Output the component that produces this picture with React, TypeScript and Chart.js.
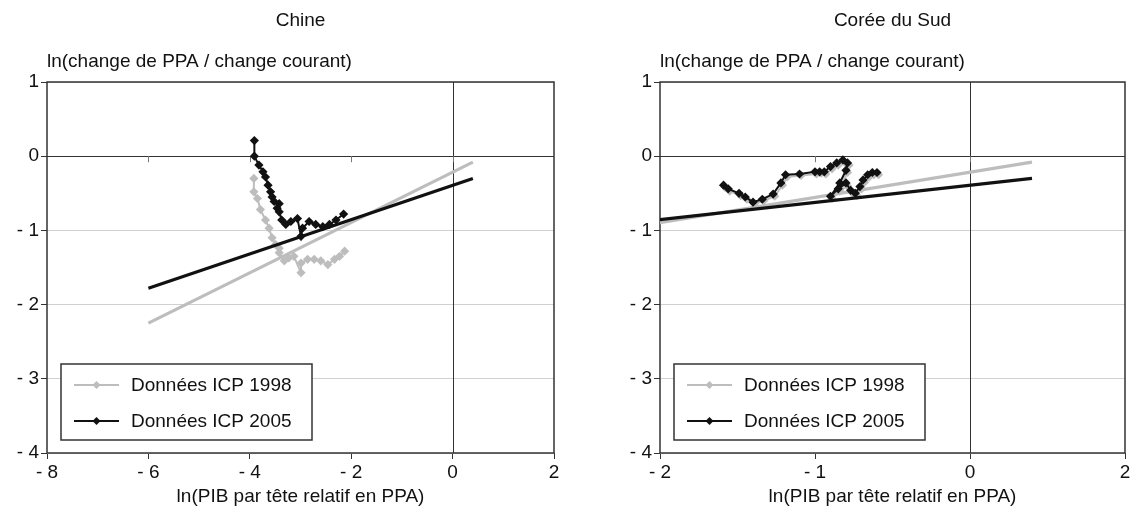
import React, { useEffect, useRef } from 'react';
import { Chart, registerables } from 'chart.js';
Chart.register(...registerables);

const FONT = "'Liberation Sans', Arial, Helvetica, sans-serif";

const chinaTitle = 'Chine';
const koreaTitle = 'Corée du Sud';
const yAxisTitle = 'ln(change de PPA / change courant)';
const xAxisTitle = 'ln(PIB par tête relatif en PPA)';
const legendLabels = ['Données ICP 1998', 'Données ICP 2005'];

const yTickValues = [1, 0, -1, -2, -3, -4];
const yTickLabels = ['1', '0', '- 1', '- 2', '- 3', '- 4'];
const chinaXTickValues = [-8, -6, -4, -2, 0, 2];
const chinaXTickLabels = ['- 8', '- 6', '- 4', '- 2', '0', '2'];
const koreaXTickValues = [-2, -1, 0, 1];
const koreaXTickLabels = ['- 2', '- 1', '0', '2'];

// cross-country regression lines
const fit1998X = [-6, 0.4];
const fit1998Y = [-2.25, -0.08];
const fit2005X = [-6, 0.4];
const fit2005Y = [-1.78, -0.3];

// China
const china2005X = [-3.91, -3.91, -3.82, -3.74, -3.69, -3.64, -3.59, -3.56, -3.52, -3.42, -3.46, -3.42, -3.37, -3.29, -3.19, -3.06, -2.99, -2.96, -2.83, -2.7, -2.56, -2.43, -2.3, -2.15];
const china2005Y = [0.21, 0.0, -0.12, -0.21, -0.28, -0.39, -0.48, -0.55, -0.61, -0.64, -0.7, -0.75, -0.86, -0.92, -0.88, -0.84, -1.08, -0.97, -0.88, -0.92, -0.95, -0.92, -0.86, -0.78];
const china1998X = [-3.92, -3.92, -3.85, -3.79, -3.69, -3.62, -3.56, -3.49, -3.42, -3.42, -3.32, -3.23, -3.13, -2.99, -2.99, -2.86, -2.73, -2.6, -2.46, -2.33, -2.23, -2.13];
const china1998Y = [-0.3, -0.48, -0.57, -0.72, -0.86, -0.97, -1.1, -1.19, -1.24, -1.3, -1.41, -1.37, -1.35, -1.57, -1.44, -1.39, -1.39, -1.41, -1.46, -1.39, -1.35, -1.28];

// Korea
const korea2005X = [-1.59, -1.56, -1.49, -1.45, -1.4, -1.34, -1.27, -1.22, -1.19, -1.1, -1.0, -0.97, -0.94, -0.9, -0.86, -0.82, -0.79, -0.8, -0.84, -0.9, -0.85, -0.8, -0.77, -0.74, -0.71, -0.69, -0.66, -0.63, -0.6];
const korea2005Y = [-0.39, -0.44, -0.5, -0.55, -0.62, -0.58, -0.51, -0.36, -0.25, -0.24, -0.21, -0.21, -0.21, -0.14, -0.09, -0.05, -0.09, -0.19, -0.36, -0.54, -0.44, -0.36, -0.46, -0.5, -0.41, -0.32, -0.25, -0.22, -0.22];
const korea1998X = [-1.58, -1.55, -1.48, -1.44, -1.39, -1.33, -1.26, -1.21, -1.18, -1.09, -0.99, -0.96, -0.93, -0.89, -0.85, -0.81, -0.78, -0.79, -0.83, -0.89, -0.84, -0.79, -0.76, -0.73, -0.7, -0.68, -0.65, -0.62, -0.59];
const korea1998Y = [-0.42, -0.47, -0.53, -0.58, -0.64, -0.6, -0.54, -0.39, -0.28, -0.26, -0.24, -0.23, -0.24, -0.17, -0.12, -0.08, -0.12, -0.22, -0.39, -0.57, -0.47, -0.4, -0.49, -0.53, -0.44, -0.35, -0.28, -0.25, -0.25];

const GRAY = '#bdbdbd';
const BLACK = '#111111';

const zip = (xs: number[], ys: number[]) => xs.map((x, i) => ({ x, y: ys[i] }));

function lookup(values: number[], labels: string[], v: number) {
  const i = values.findIndex((t) => Math.abs(t - v) < 1e-9);
  return i >= 0 ? labels[i] : '';
}

function diamond(ctx: CanvasRenderingContext2D, x: number, y: number, r: number) {
  ctx.beginPath();
  ctx.moveTo(x, y - r);
  ctx.lineTo(x + r, y);
  ctx.lineTo(x, y + r);
  ctx.lineTo(x - r, y);
  ctx.closePath();
  ctx.fill();
}

function makeDecor(title: string, xTicks: number[]) {
  return {
    id: 'decor',
    beforeDatasetsDraw(chart: any) {
      const { ctx, chartArea: a, scales } = chart;
      const x = scales.x;
      const y = scales.y;
      ctx.save();
      const x0 = Math.round(x.getPixelForValue(0)) + 0.5;
      ctx.strokeStyle = '#333';
      ctx.lineWidth = 1;
      ctx.beginPath();
      ctx.moveTo(x0, a.top);
      ctx.lineTo(x0, a.bottom);
      ctx.stroke();
      const y0 = y.getPixelForValue(0);
      ctx.strokeStyle = '#777';
      ctx.beginPath();
      for (let i = 1; i < xTicks.length - 1; i++) {
        const px = Math.round(x.getPixelForValue(xTicks[i])) + 0.5;
        ctx.moveTo(px, y0);
        ctx.lineTo(px, y0 + 6);
      }
      ctx.stroke();
      ctx.strokeStyle = '#333';
      ctx.lineWidth = 1.5;
      ctx.strokeRect(a.left, a.top, a.right - a.left, a.bottom - a.top);
      ctx.restore();
    },
    afterDatasetsDraw(chart: any) {
      const { ctx, chartArea: a } = chart;
      ctx.save();
      const bx = a.left + 14;
      const bw = 251;
      const bh = 76;
      const by = a.bottom - 13 - bh;
      ctx.fillStyle = '#fff';
      ctx.fillRect(bx, by, bw, bh);
      ctx.strokeStyle = '#333';
      ctx.lineWidth = 1.5;
      ctx.strokeRect(bx, by, bw, bh);
      const rows = [
        { c: GRAY, y: by + 21, t: legendLabels[0] },
        { c: BLACK, y: by + 57, t: legendLabels[1] },
      ];
      ctx.font = `19px ${FONT}`;
      ctx.textBaseline = 'middle';
      ctx.textAlign = 'left';
      for (const r of rows) {
        ctx.strokeStyle = r.c;
        ctx.fillStyle = r.c;
        ctx.lineWidth = 2;
        ctx.beginPath();
        ctx.moveTo(bx + 13, r.y);
        ctx.lineTo(bx + 58, r.y);
        ctx.stroke();
        diamond(ctx, bx + 35.5, r.y, 4);
        ctx.fillStyle = '#111';
        ctx.fillText(r.t, bx + 70, r.y + 1);
      }
      ctx.restore();
    },
    afterDraw(chart: any) {
      const { ctx, chartArea: a } = chart;
      ctx.save();
      ctx.fillStyle = '#111';
      ctx.font = `19px ${FONT}`;
      ctx.textBaseline = 'middle';
      ctx.textAlign = 'center';
      const cx = (a.left + a.right) / 2;
      ctx.fillText(title, cx, 21);
      ctx.fillText(xAxisTitle, cx, 497);
      ctx.textAlign = 'left';
      ctx.fillText(yAxisTitle, a.left, 62);
      ctx.restore();
    },
  };
}

interface Cfg {
  title: string;
  xMin: number;
  xMax: number;
  xTicks: number[];
  xLabels: string[];
  yWidth: number;
  padRight: number;
  s2005: { x: number; y: number }[];
  s1998: { x: number; y: number }[];
}

function buildConfig(c: Cfg): any {
  const tickFont = { family: FONT, size: 19 };
  return {
    type: 'scatter',
    data: {
      datasets: [
        {
          data: c.s2005,
          showLine: true,
          borderColor: BLACK,
          backgroundColor: BLACK,
          borderWidth: 2,
          pointStyle: 'rectRot',
          pointRadius: 4.6,
          pointBorderWidth: 0,
        },
        {
          data: zip(fit2005X, fit2005Y),
          showLine: true,
          borderColor: BLACK,
          borderWidth: 3.2,
          pointRadius: 0,
        },
        {
          data: zip(fit1998X, fit1998Y),
          showLine: true,
          borderColor: GRAY,
          borderWidth: 3.2,
          pointRadius: 0,
        },
        {
          data: c.s1998,
          showLine: true,
          borderColor: GRAY,
          backgroundColor: GRAY,
          borderWidth: 2,
          pointStyle: 'rectRot',
          pointRadius: 4.6,
          pointBorderWidth: 0,
        },
      ],
    },
    options: {
      responsive: false,
      animation: false,
      devicePixelRatio: 1,
      layout: { padding: { left: 0, right: c.padRight, top: 82, bottom: 0 } },
      plugins: { legend: { display: false }, tooltip: { enabled: false }, title: { display: false } },
      scales: {
        x: {
          type: 'linear',
          min: c.xMin,
          max: c.xMax,
          afterBuildTicks: (s: any) => {
            s.ticks = c.xTicks.map((v) => ({ value: v }));
          },
          afterFit: (s: any) => {
            s.height = 71;
          },
          ticks: {
            autoSkip: false,
            maxRotation: 0,
            padding: 2,
            color: '#111',
            font: tickFont,
            callback: (v: number) => lookup(c.xTicks, c.xLabels, v),
          },
          grid: { drawOnChartArea: false, tickLength: 6, color: '#333', tickColor: '#333' },
          border: { display: false },
        },
        y: {
          type: 'linear',
          min: -4,
          max: 1,
          afterBuildTicks: (s: any) => {
            s.ticks = yTickValues.map((v) => ({ value: v }));
          },
          afterFit: (s: any) => {
            s.width = c.yWidth;
          },
          ticks: {
            autoSkip: false,
            padding: 2,
            color: '#111',
            font: tickFont,
            callback: (v: number) => lookup(yTickValues, yTickLabels, v),
          },
          grid: {
            tickLength: 6,
            tickColor: '#333',
            lineWidth: 1,
            color: (ctx: any) => (ctx.tick && ctx.tick.value === 0 ? '#333' : '#d0d0d0'),
          },
          border: { display: false },
        },
      },
    },
    plugins: [makeDecor(c.title, c.xTicks)],
  };
}

function Panel({ cfg, width, left }: { cfg: Cfg; width: number; left: number }) {
  const ref = useRef<HTMLCanvasElement>(null);
  useEffect(() => {
    if (!ref.current) return;
    const chart = new Chart(ref.current, buildConfig(cfg));
    return () => chart.destroy();
  }, []);
  return (
    <div style={{ position: 'absolute', left, top: 0, width, height: 524 }}>
      <canvas ref={ref} width={width} height={524} style={{ display: 'block', width, height: 524 }} />
    </div>
  );
}

export default function App() {
  const china: Cfg = {
    title: chinaTitle,
    xMin: -8,
    xMax: 2,
    xTicks: chinaXTickValues,
    xLabels: chinaXTickLabels,
    yWidth: 47,
    padRight: 17,
    s2005: zip(china2005X, china2005Y),
    s1998: zip(china1998X, china1998Y),
  };
  const korea: Cfg = {
    title: koreaTitle,
    xMin: -2,
    xMax: 1,
    xTicks: koreaXTickValues,
    xLabels: koreaXTickLabels,
    yWidth: 89,
    padRight: 18,
    s2005: zip(korea2005X, korea2005Y),
    s1998: zip(korea1998X, korea1998Y),
  };
  return (
    <div style={{ position: 'fixed', left: 0, top: 0, width: 1143, height: 524, background: '#fff', overflow: 'hidden' }}>
      <Panel cfg={china} width={571} left={0} />
      <Panel cfg={korea} width={572} left={571} />
    </div>
  );
}
